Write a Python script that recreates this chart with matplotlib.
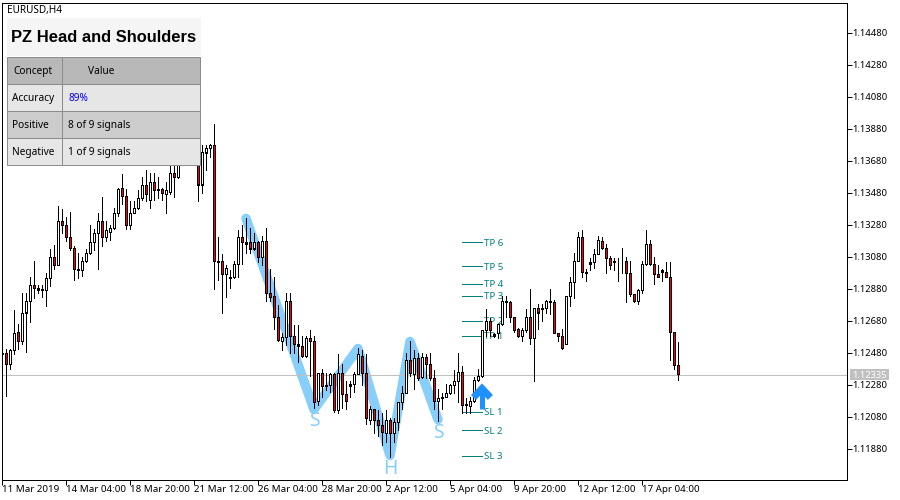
import numpy as np
import matplotlib
matplotlib.use('Agg')
import matplotlib.pyplot as plt
from matplotlib.patches import Rectangle

plt.rcParams['font.family'] = ['Noto Sans', 'DejaVu Sans']

# candles in points (1 point = 0.00001)
opens = [112468, 112474, 112411, 112493, 112611, 112549, 112730, 112799, 112899, 112886,
         112874, 112868, 112943, 113074, 113024, 113305, 113274, 113199, 113136, 112999,
         112993, 113049, 113099, 113168, 113224, 113299, 113205, 113236, 113261, 113349,
         113511, 113461, 113280, 113355, 113386, 113443, 113524, 113436, 113543, 113499,
         113499, 113468, 113486, 113599, 113574, 113680, 113718, 113699, 113680, 113705,
         113530, 113730, 113761, 113774, 113049, 113049, 112968, 112949, 112949, 113036,
         113205, 113168, 113168, 113130, 113168, 113074, 113174, 112855, 112836, 112705,
         112555, 112574, 112805, 112586, 112536, 112518, 112461, 112568, 112555, 112174,
         112355, 112274, 112274, 112343, 112118, 112355, 112218, 112268, 112286, 112343,
         112461, 112349, 112061, 112130, 112061, 112024, 111980, 112061, 111974, 112043,
         112168, 112230, 112436, 112343, 112443, 112324, 112449, 112411, 112318, 112180,
         112199, 112205, 112224, 112274, 112305, 112361, 112149, 112143, 112180, 112311,
         112336, 112618, 112674, 112593, 112599, 112661, 112799, 112793, 112705, 112630,
         112586, 112618, 112699, 112568, 112761, 112749, 112761, 112799, 112793, 112605,
         112586, 112536, 112836, 112918, 113055, 113205, 112986, 113036, 113043, 113093,
         113180, 113136, 113068, 113043, 113055, 113055, 113055, 112974, 112843, 112805,
         112868, 113036, 113161, 113036, 112968, 112993, 112986, 112949, 112611, 112405]
highs = [112524, 112499, 112505, 112743, 112661, 112849, 112849, 112955, 113055, 112905,
         112899, 112980, 113130, 113155, 113393, 113380, 113324, 113361, 113143, 113099,
         113080, 113124, 113274, 113255, 113355, 113449, 113299, 113280, 113386, 113511,
         113593, 113499, 113430, 113430, 113493, 113574, 113618, 113599, 113605, 113574,
         113511, 113543, 113680, 113668, 113730, 113743, 113755, 113743, 113749, 113743,
         113774, 113780, 113786, 113911, 113199, 113093, 113024, 112993, 113049, 113243,
         113274, 113318, 113261, 113224, 113180, 113211, 113261, 113005, 112949, 112774,
         112599, 112855, 112855, 112649, 112649, 112586, 112586, 112618, 112586, 112355,
         112380, 112349, 112355, 112355, 112468, 112411, 112305, 112305, 112361, 112511,
         112493, 112468, 112143, 112130, 112118, 112099, 112118, 112068, 112068, 112168,
         112268, 112474, 112549, 112493, 112480, 112480, 112468, 112474, 112368, 112255,
         112230, 112286, 112286, 112368, 112480, 112393, 112193, 112199, 112324, 112374,
         112618, 112749, 112693, 112599, 112661, 112836, 112836, 112805, 112705, 112636,
         112636, 112755, 112880, 112761, 112786, 112786, 112811, 112874, 112811, 112605,
         112630, 112836, 112949, 113099, 113236, 113243, 112999, 113068, 113130, 113211,
         113199, 113161, 113086, 113068, 113068, 113136, 113074, 113049, 112843, 112880,
         113049, 113243, 113186, 113074, 113030, 113005, 113043, 113043, 112611, 112543]
lows = [112468, 112211, 112374, 112468, 112505, 112536, 112486, 112668, 112818, 112849,
        112824, 112768, 112893, 112999, 113024, 113230, 113174, 113118, 112936, 112943,
        112961, 113043, 113093, 113118, 112999, 113143, 113174, 113186, 113249, 113336,
        113411, 113249, 113255, 113349, 113380, 113436, 113430, 113386, 113436, 113443,
        113436, 113349, 113468, 113455, 113568, 113661, 113661, 113661, 113661, 113424,
        113480, 113618, 113699, 112880, 112936, 112730, 112830, 112886, 112943, 112949,
        113036, 113099, 113099, 113118, 113043, 113024, 112799, 112805, 112630, 112555,
        112493, 112524, 112480, 112474, 112418, 112449, 112455, 112336, 112136, 112149,
        112199, 112243, 112236, 112111, 112099, 112136, 112124, 112199, 112236, 112343,
        112274, 112036, 112036, 111980, 111961, 111905, 111918, 111830, 111918, 111993,
        112130, 112224, 112336, 112255, 112311, 112318, 112318, 112311, 112124, 112055,
        112130, 112199, 112218, 112230, 112168, 112105, 112105, 112105, 112168, 112305,
        112330, 112586, 112586, 112580, 112568, 112655, 112699, 112668, 112611, 112574,
        112549, 112611, 112536, 112299, 112630, 112680, 112730, 112718, 112599, 112555,
        112499, 112536, 112768, 112818, 113049, 112949, 112924, 112993, 113011, 113093,
        113130, 112980, 112999, 112993, 112924, 112980, 112793, 112836, 112793, 112786,
        112849, 113030, 113024, 112911, 112949, 112930, 112949, 112436, 112374, 112311]
closes = [112474, 112411, 112493, 112605, 112549, 112730, 112799, 112899, 112886, 112868,
          112868, 112943, 113074, 113024, 113305, 113274, 113199, 113136, 113005, 112993,
          113049, 113099, 113168, 113224, 113299, 113205, 113243, 113261, 113349, 113505,
          113461, 113280, 113355, 113386, 113443, 113524, 113468, 113543, 113493, 113493,
          113474, 113493, 113599, 113574, 113680, 113718, 113699, 113680, 113705, 113530,
          113736, 113761, 113774, 113049, 113043, 112968, 113011, 112943, 113036, 113205,
          113168, 113161, 113130, 113168, 113074, 113174, 112855, 112830, 112705, 112561,
          112574, 112805, 112586, 112536, 112518, 112461, 112568, 112555, 112168, 112355,
          112268, 112268, 112343, 112118, 112355, 112218, 112174, 112286, 112343, 112468,
          112349, 112068, 112124, 112061, 112024, 111986, 112061, 111974, 112043, 112168,
          112230, 112436, 112349, 112443, 112318, 112449, 112411, 112318, 112180, 112193,
          112193, 112224, 112274, 112305, 112361, 112149, 112161, 112180, 112311, 112336,
          112618, 112674, 112618, 112586, 112661, 112805, 112793, 112705, 112618, 112586,
          112618, 112699, 112568, 112761, 112730, 112761, 112799, 112793, 112599, 112586,
          112511, 112836, 112918, 113055, 113205, 112986, 112980, 113043, 113093, 113186,
          113136, 113068, 113030, 113055, 113049, 113049, 112974, 112843, 112805, 112868,
          113036, 113161, 113036, 112968, 112955, 112986, 112949, 112611, 112405, 112343]

# head and shoulders outline
hs_bars = [61, 78, 89, 97, 102, 109]
hs_points = [113318, 112124, 112505, 111836, 112549, 112061]
hs_labels = ['S', 'H', 'S']
hs_label_bars = [78, 97, 109]
hs_label_points = [112055, 111755, 111980]

# target and stop levels
level_names = ['TP 6', 'TP 5', 'TP 4', 'TP 3', 'TP 2', 'TP 1', 'SL 1', 'SL 2', 'SL 3']
level_points = [113168, 113018, 112911, 112836, 112680, 112586, 112111, 111993, 111836]

last_price = 1.12335
last_line = 1.12342  # the drawn line sits a pixel above the label value
price_ticks = [1.14480, 1.14280, 1.14080, 1.13880, 1.13680, 1.13480, 1.13280,
               1.13080, 1.12880, 1.12680, 1.12480, 1.12280, 1.12080, 1.11880]
time_ticks = [0, 16, 32, 48, 64, 80, 96, 112, 128, 144, 160]
time_labels = ['11 Mar 2019', '14 Mar 04:00', '18 Mar 20:00', '21 Mar 12:00', '26 Mar 04:00',
               '28 Mar 20:00', '2 Apr 12:00', '5 Apr 04:00', '9 Apr 20:00', '12 Apr 12:00',
               '17 Apr 04:00']

# table panel
table_rows = [('Concept', 'Value'), ('Accuracy', '89%'), ('Positive', '8 of 9 signals'),
              ('Negative', '1 of 9 signals')]
table_fills = ['#b8b8b8', '#e6e6e6', '#cccccc', '#e6e6e6']

LIGHT_BLUE = '#87cefa'
TEAL = '#008080'
GRAY = '#c0c0c0'
PX = 72 / 100  # one pixel in points

point = 1e-5
px_price = 6.25 * point  # one pixel on the price scale
o = np.array(opens) * point
h = np.array(highs) * point
l = np.array(lows) * point
c = np.array(closes) * point
bars = np.arange(len(o))

fig = plt.figure(figsize=(9, 5), dpi=100, facecolor='white')
# left edge at 2.0 so snapping puts bar k on pixel 2 + 4k
ax = fig.add_axes([2.0 / 900, 1 - 479.5 / 500, 845 / 900, 477 / 500])
ax.set_xlim(0, 211.25)
ax.set_ylim(1.1168625, 1.146675)

# pattern and levels sit under the candles
ax.plot(np.array(hs_bars), np.array(hs_points) * point, color=LIGHT_BLUE, lw=9.5 * PX,
        solid_capstyle='round', solid_joinstyle='round', zorder=1)
ax.axhline(last_line, color=GRAY, lw=PX, zorder=1.5)
for name, lvl in zip(level_names, level_points):
    ax.plot([115, 120], [lvl * point, lvl * point], color=TEAL, lw=PX, zorder=1.6)
    ax.text(120.6, (lvl - 6) * point, name, color=TEAL, fontsize=7, va='center', ha='left', zorder=1.6)
for lab, b, p in zip(hs_labels, hs_label_bars, hs_label_points):
    ax.text(b, p * point, lab, color=LIGHT_BLUE, fontsize=14, ha='center', va='center', zorder=1.7)

# candles: wick, black body, then a one pixel core
ax.vlines(bars, l, h, color='black', lw=PX, zorder=2, antialiased=False, capstyle='butt')
top = np.maximum(o, c)
bottom = np.minimum(o, c)
ax.vlines(bars, bottom, top, color='black', lw=3 * PX, zorder=3, antialiased=False, capstyle='butt')
up = c > o
wide = (top - bottom) > 2 * px_price
core_colors = ['white' if u else 'red' for u in up[wide]]
ax.vlines(bars[wide], bottom[wide] + px_price, top[wide] - px_price, colors=core_colors, lw=PX,
          zorder=4, antialiased=False, capstyle='butt')

# entry arrow
ARROW = '#1e90ff'
ax.plot([120, 120], [1.12130, 1.12255], color=ARROW, lw=5 * PX, solid_capstyle='butt', zorder=5)
ax.plot([117.9, 120, 122.1], [1.12199, 1.12255, 1.12199], color=ARROW, lw=7 * PX,
        solid_capstyle='butt', solid_joinstyle='miter', zorder=5)

# axes
ax.yaxis.tick_right()
ax.set_yticks(price_ticks)
ax.set_yticklabels(['%.5f' % v for v in price_ticks], fontsize=6.8)
ax.set_xticks(time_ticks)
ax.set_xticklabels(time_labels, fontsize=7, ha='left')
ax.tick_params(axis='both', length=5 * PX, width=PX, color='black')
ax.tick_params(axis='y', pad=0)
ax.tick_params(axis='x', pad=0.5)
for spine in ax.spines.values():
    spine.set_linewidth(PX)

# overlay in pixel coordinates for the panel and labels
ov = fig.add_axes([0, 0, 1, 1], facecolor='none')
ov.set_xlim(0, 900)
ov.set_ylim(500, 0)
ov.axis('off')

ov.text(6.5, 10.5, 'EURUSD,H4', fontsize=7.2, va='center', ha='left')
ov.add_patch(Rectangle((850, 369), 39, 11, facecolor=GRAY, edgecolor='none'))
ov.text(852.5, 375, '%.5f' % last_price, color='white', fontsize=6.8, va='center', ha='left')

ov.add_patch(Rectangle((7, 18), 194, 38, facecolor='#f5f5f5', edgecolor='none'))
ov.text(104, 37.5, 'PZ Head and Shoulders', fontsize=11.9, fontweight='bold', ha='center', va='center',
        family=['Liberation Sans', 'DejaVu Sans'])
for i, (row, fill) in enumerate(zip(table_rows, table_fills)):
    y0 = 56.8 + 27 * i
    ov.add_patch(Rectangle((7.2, y0), 55, 27, facecolor=fill, edgecolor='#8c8c8c', lw=PX))
    ov.add_patch(Rectangle((62.2, y0), 138, 27, facecolor=fill, edgecolor='#8c8c8c', lw=PX))
    x_left = 13.5 if i == 0 else 12
    x_right = 87.5 if i == 0 else 68.5
    ov.text(x_left, y0 + 15, row[0], fontsize=7.3, va='center', ha='left')
    ov.text(x_right, y0 + 15, row[1], fontsize=7.3, va='center', ha='left',
            color='#0000ff' if row[1] == '89%' else 'black')

fig.savefig('out.png', dpi=100)
